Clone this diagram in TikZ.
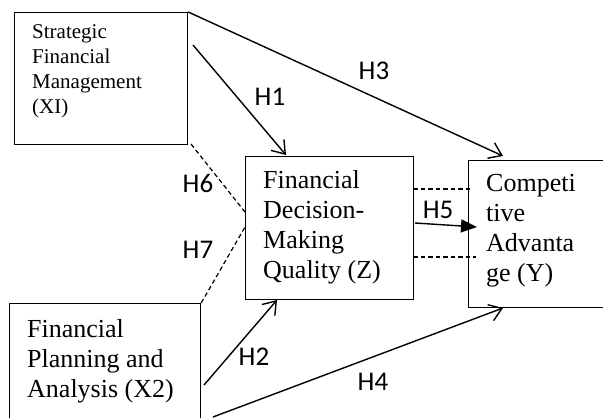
\documentclass[tikz,border=0pt]{standalone}
\usepackage{fontspec}
\setmainfont{Liberation Serif}
\newfontfamily\labfont{Carlito}
\usetikzlibrary{arrows.meta}
\begin{document}
\begin{tikzpicture}[x=1pt,y=-1pt,
  box/.style={draw, line width=1.2pt, inner sep=0pt, anchor=north west},
  txt/.style={align=left, inner sep=0pt, anchor=base west, font=\fontsize{26}{30}\selectfont},
  smalltxt/.style={align=left, inner sep=0pt, anchor=base west, font=\fontsize{21}{25}\selectfont},
  hyp/.style={font=\labfont\fontsize{27}{30}\selectfont, inner sep=0pt},
  arr/.style={line width=1.4pt, -{Straight Barb[length=12pt,width=17pt]}},
  farr/.style={line width=1.4pt, -{Triangle[length=16pt,width=13pt]}},
  dline/.style={line width=1.2pt, dash pattern=on 4.5pt off 3pt}
]
\clip (0,0) rectangle (603,418);
% boxes
\node[box, minimum width=173pt, minimum height=132pt] (x1) at (14,12) {};
\node[box, minimum width=168pt, minimum height=143pt] (z) at (245,156) {};
\node[box, minimum width=160pt, minimum height=147pt] (y) at (468,160) {};
\node[box, minimum width=191pt, minimum height=130pt] (x2) at (9,303) {};
% texts (anchored at the baseline of the last line)
\node[smalltxt] (x1t) at (32,113) {Strategic\\Financial\\Management\\(XI)};
\node[txt] (zt) at (263,278) {Financial\\Decision-\\Making\\Quality (Z)};
\node[txt] (yt) at (486,281) {Competi\\tive\\Advanta\\ge (Y)};
\node[txt] (x2t) at (27,397) {Financial\\Planning and\\Analysis (X2)};
% connector end points
\coordinate (h1s) at (193,45);
\coordinate (h1e) at (286,155);
\coordinate (h3e) at (503,156);
\coordinate (h5s) at (415,223);
\coordinate (h5e) at (477,227);
\coordinate (d1s) at (413,189);
\coordinate (d1e) at (472,189);
\coordinate (d2s) at (413,257);
\coordinate (d2e) at (476,257);
\coordinate (h6s) at (191,144);
\coordinate (h6e) at (245,212);
\coordinate (h7e) at (245,227);
\coordinate (h2s) at (204,385);
\coordinate (h2e) at (277,300);
\coordinate (h4s) at (213,417);
\coordinate (h4e) at (503,308);
% connectors
\draw[arr] (h1s) -- (h1e);
\draw[arr] (x1.north east) -- (h3e);
\draw[farr] (h5s) -- (h5e);
\draw[dline] (d1s) -- (d1e);
\draw[dline] (d2s) -- (d2e);
\draw[dline] (h6s) -- (h6e);
\draw[dline] (x2.north east) -- (h7e);
\draw[arr] (h2s) -- (h2e);
\draw[arr] (h4s) -- (h4e);
% labels
\node[hyp] (l1) at (270,97) {H1};
\node[hyp] (l3) at (374,71) {H3};
\node[hyp] (l5) at (438,210) {H5};
\node[hyp] (l6) at (198,183) {H6};
\node[hyp] (l7) at (198,250) {H7};
\node[hyp] (l2) at (254,357) {H2};
\node[hyp] (l4) at (373,382) {H4};
\end{tikzpicture}
\end{document}
